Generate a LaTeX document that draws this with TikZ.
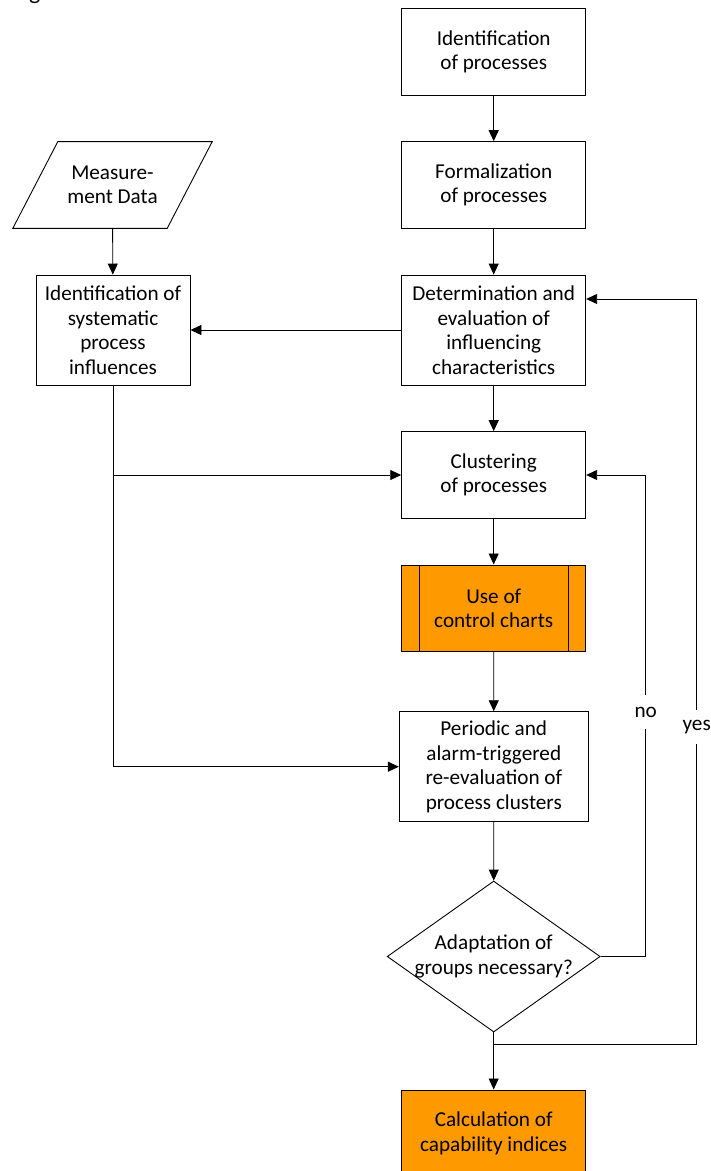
\documentclass[tikz,border=0pt]{standalone}
\usepackage{fontspec}
\setmainfont{Carlito}
\usetikzlibrary{arrows.meta,shapes.geometric}
\definecolor{chartorange}{RGB}{255,153,0}
\begin{document}
\begin{tikzpicture}[x=1pt,y=-1pt,
  font=\fontsize{21.2}{24.5}\selectfont,
  every node/.style={align=center, inner sep=0pt},
  procbox/.style={draw, line width=0.9pt, minimum width=184pt, minimum height=86.7pt},
  tallbox/.style={procbox, minimum height=110pt},
  hilite/.style={procbox, fill=chartorange},
  flow/.style={draw, line width=0.9pt, -{Triangle[length=11pt,width=10pt]}},
  plain/.style={draw, line width=0.9pt},
  tag/.style={fill=white, minimum width=26pt, minimum height=34pt}]

\useasboundingbox (0,0) rectangle (711,1171);

% fragment of the caption above the chart
\node[anchor=base west, font=\fontsize{24}{28}\selectfont] (figfrag) at (29,-1) {g};

% main column
\node[procbox] (ident) at (493.7,51.7) {Identification\\of processes};
\node[procbox] (formal) at (493.7,185) {Formalization\\of processes};
\node[tallbox] (determ) at (493.7,330) {Determination and\\evaluation of\\influencing\\characteristics};
\node[procbox] (cluster) at (493.7,475) {Clustering\\of processes};
\node[hilite] (charts) at (493.7,608.3) {Use of\\control charts};
\draw[plain] ([xshift=18.3pt]charts.north west) -- ([xshift=18.3pt]charts.south west);
\draw[plain] ([xshift=-18pt]charts.north east) -- ([xshift=-18pt]charts.south east);
\node[tallbox, minimum width=189pt] (review) at (493.8,766.7) {Periodic and\\alarm-triggered\\re-evaluation of\\process clusters};
\node[draw, diamond, line width=0.9pt, minimum width=213pt, minimum height=151pt] (decide) at (493.7,956.5) {};
\node (decidetext) at (decide.center) {Adaptation of\\groups necessary?};
\node[hilite] (capab) at (493.7,1133.3) {Calculation of\\capability indices};

% left column
\node[minimum width=199pt, minimum height=86.3pt] (data) at (112.5,185) {Measure-\\ment Data};
\draw[plain] ([xshift=45pt]data.north west) -- (data.north east)
  -- ([xshift=-45pt]data.south east) -- (data.south west) -- cycle;
\node[tallbox, minimum width=154pt] (influence) at (113,330) {Identification of\\systematic\\process\\influences};

% connectors
\draw[flow] (ident) -- (formal);
\draw[flow] (formal) -- (determ);
\draw[flow] (determ) -- (cluster);
\draw[flow] (cluster) -- (charts);
\draw[flow] (charts) -- (review);
\draw[flow] (review) -- (decide);
\draw[flow] (decide) -- (capab);
\draw[flow] (data) -- (influence);
\draw[flow] (determ.west) -- (influence.east);
\draw[flow] (influence.south) |- (cluster.west);
\draw[flow] (influence.south) |- (review.west);

% feedback loops
\coordinate (nobend) at (645.7,956.5);
\draw[flow] (decide.east) -- (nobend) |- (cluster.east);
\node[tag] (nolabel) at (645.7,712) {no};

\coordinate (yesfork) at (493.7,1044);
\coordinate (yesbend) at (696.7,1044);
\draw[flow] (yesfork) -- (yesbend) |- ([yshift=31pt]determ.east);
\node[tag] (yeslabel) at (696.7,727) {yes};
\end{tikzpicture}
\end{document}
